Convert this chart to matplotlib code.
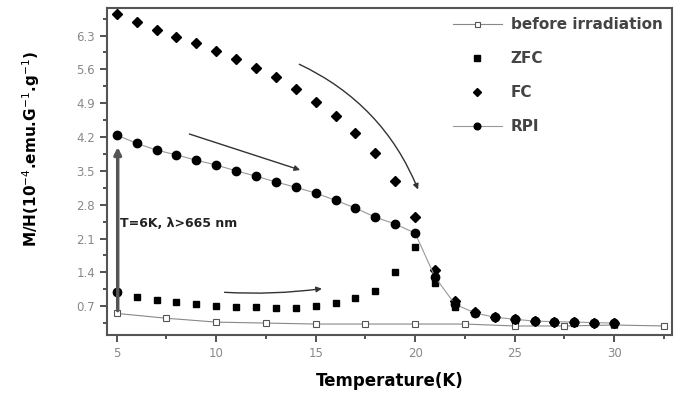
import matplotlib.pyplot as plt
import numpy as np

# before irradiation
t_before = [5, 7.5, 10, 12.5, 15, 17.5, 20, 22.5, 25, 27.5, 30, 32.5]
m_before = [0.55, 0.45, 0.37, 0.35, 0.33, 0.33, 0.33, 0.33, 0.29, 0.29, 0.31, 0.29]

# ZFC
t_zfc = [5, 6, 7, 8, 9, 10, 11, 12, 13, 14, 15, 16, 17, 18, 19, 20, 21, 22, 23, 24, 25, 26, 27, 28, 29, 30]
m_zfc = [0.99, 0.89, 0.82, 0.78, 0.74, 0.70, 0.68, 0.68, 0.66, 0.66, 0.70, 0.76, 0.87, 1.01, 1.40, 1.92,
         1.18, 0.68, 0.56, 0.47, 0.42, 0.39, 0.37, 0.36, 0.35, 0.34]

# FC
t_fc = [5, 6, 7, 8, 9, 10, 11, 12, 13, 14, 15, 16, 17, 18, 19, 20, 21, 22, 23, 24, 25, 26, 27, 28, 29, 30]
m_fc = [6.75, 6.58, 6.41, 6.27, 6.14, 5.98, 5.81, 5.63, 5.44, 5.19, 4.92, 4.63, 4.28, 3.87, 3.29, 2.54,
        1.45, 0.80, 0.58, 0.48, 0.44, 0.40, 0.38, 0.37, 0.36, 0.35]

# RPI
t_rpi = [5, 6, 7, 8, 9, 10, 11, 12, 13, 14, 15, 16, 17, 18, 19, 20, 21, 22, 23, 24, 25, 26, 27, 28, 29, 30]
m_rpi = [4.24, 4.07, 3.93, 3.83, 3.72, 3.62, 3.50, 3.39, 3.27, 3.16, 3.04, 2.89, 2.73, 2.54, 2.40, 2.21,
         1.30, 0.74, 0.56, 0.47, 0.43, 0.39, 0.38, 0.37, 0.36, 0.35]

yticks = [0.7, 1.4, 2.1, 2.8, 3.5, 4.2, 4.9, 5.6, 6.3]
xticks = [5, 10, 15, 20, 25, 30]

fig = plt.figure(figsize=(6.8, 3.99), dpi=100)
ax = fig.add_axes([0.157, 0.160, 0.831, 0.820])

ax.plot(t_before, m_before, color='#888888', lw=0.8, marker='s', ms=4.5,
        mfc='white', mec='#555555', mew=0.8, label='before irradiation')
ax.plot(t_zfc, m_zfc, ls='none', marker='s', ms=5, color='black', label='ZFC')
ax.plot(t_fc, m_fc, ls='none', marker='D', ms=5, color='black', label='FC')
ax.plot(t_rpi, m_rpi, color='#999999', lw=0.8, marker='o', ms=6,
        mfc='black', mec='black', label='RPI')
ax.plot([5], [0.99], ls='none', marker='o', ms=6, color='black')

# arrows
ax.annotate('', xy=(5.05, 4.05), xytext=(5.05, 0.55),
            arrowprops=dict(arrowstyle='-|>', color='#555555', lw=2.5, mutation_scale=10))
ax.annotate('', xy=(20.2, 3.06), xytext=(14.05, 5.73),
            arrowprops=dict(arrowstyle='-|>', color='#333333', lw=1,
                            connectionstyle='arc3,rad=-0.2', mutation_scale=8))
ax.annotate('', xy=(14.35, 3.50), xytext=(8.52, 4.28),
            arrowprops=dict(arrowstyle='-|>', color='#333333', lw=1, mutation_scale=8))
ax.annotate('', xy=(15.45, 1.07), xytext=(10.28, 0.99),
            arrowprops=dict(arrowstyle='-|>', color='#333333', lw=1,
                            connectionstyle='arc3,rad=0.05', mutation_scale=8))

ax.text(5.15, 2.42, 'T=6K, λ>665 nm', fontsize=9, fontweight='bold', color='#222222', va='center')

ax.set_xlim(4.5, 32.9)
ax.set_ylim(0.1, 6.87)
ax.set_xticks(xticks)
ax.set_yticks(yticks)
ax.set_xticks(np.arange(7.5, 33, 5), minor=True)
ax.set_yticks(np.arange(0.35, 6.87, 0.7), minor=True)
ax.tick_params(which='both', direction='out', colors='#333333', labelcolor='#888888', labelsize=8.5, width=1.2)
ax.tick_params(which='major', length=5)
ax.tick_params(which='minor', length=3)
for s in ax.spines.values():
    s.set_linewidth(1.5)
    s.set_color('#555555')

ax.set_xlabel('Temperature(K)', fontsize=12, fontweight='bold', labelpad=9)
ax.set_ylabel(r'M/H(10$^{-4}$.emu.G$^{-1}$.g$^{-1}$)', fontsize=11, fontweight='bold', labelpad=14)
ax.yaxis.set_label_coords(-0.115, 0.57)

leg = ax.legend(loc='upper right', frameon=False, fontsize=11, handlelength=3.2,
                labelspacing=1.25, borderaxespad=0.2, handletextpad=0.6, markerscale=0.8)
for t in leg.get_texts():
    t.set_color('#444444')
    t.set_fontweight('bold')

fig.savefig('out.png', dpi=100)
